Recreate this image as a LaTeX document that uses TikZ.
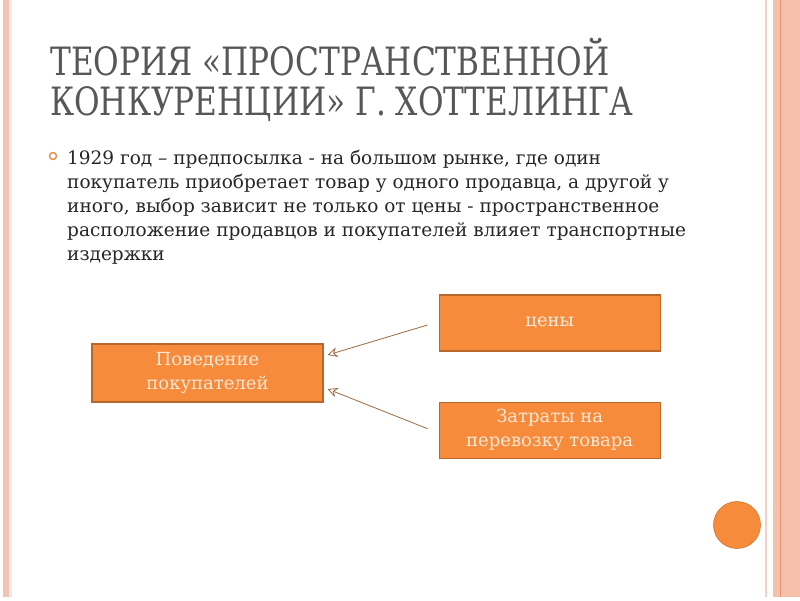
\documentclass[tikz,border=0pt]{standalone}
\usepackage{fontspec}
\setmainfont{DejaVu Serif}
\newfontfamily\titlefont[FakeStretch=0.8]{DejaVu Serif}
\usepackage{xcolor}
\usetikzlibrary{arrows.meta,positioning}
\definecolor{boxfill}{HTML}{F68B3B}
\definecolor{boxline}{HTML}{B8682D}
\definecolor{boxtext}{HTML}{FDE9D9}
\definecolor{titlegray}{HTML}{575757}
\definecolor{bodytext}{HTML}{262626}
\definecolor{arrowbrown}{HTML}{9C6B3F}
\definecolor{stripe}{HTML}{F6C0AA}
\definecolor{stripeline}{HTML}{E8907A}
\definecolor{edgepink}{HTML}{EEC5B5}

\begin{document}
\begin{tikzpicture}[
  x=1pt, y=-1pt,
  node distance=50pt and 115pt,
  box/.style={draw=boxline, line width=1.2pt, fill=boxfill, align=center,
              text=boxtext, font=\fontsize{18}{24}\selectfont,
              minimum width=221pt, minimum height=56pt, inner sep=0pt},
  arrow/.style={-{Stealth[open,length=10pt,width=10pt]}, draw=arrowbrown,
                line width=0.8pt}
]
\useasboundingbox (0,0) rectangle (800,600);
\fill[white] (0,0) rectangle (800,600);
% slide frame
\fill[edgepink] (3,0) rectangle (9,597);
\fill[edgepink!40] (9,0) rectangle (12,597);
\fill[edgepink!80] (764.5,0) rectangle (767,597);
\fill[stripe] (773,0) rectangle (800,597);
\draw[stripeline, line width=1pt] (780.5,0)--(780.5,597);
\fill[boxfill] (737,525) circle (23.5);
\draw[boxfill!85!black, line width=0.6pt] (737,525) circle (23.5);
% title and text
\node[anchor=base west, align=left, inner sep=0pt, text=titlegray,
      font=\titlefont\fontsize{39}{40}\selectfont] (title) at (50,115)
  {ТЕОРИЯ «ПРОСТРАНСТВЕННОЙ\\КОНКУРЕНЦИИ» Г. ХОТТЕЛИНГА};
\draw[color=boxfill!70!brown, line width=1.3pt] (53,156) circle (3.5);
\node[anchor=base west, align=left, inner sep=0pt, text=bodytext,
      font=\fontsize{18.5}{24}\selectfont] (text) at (67,260)
  {1929 год -- предпосылка - на большом рынке, где один\\
   покупатель приобретает товар у одного продавца, а другой у\\
   иного, выбор зависит не только от цены - пространственное\\
   расположение продавцов и покупателей влияет транспортные\\
   издержки};
% diagram
\node[box, minimum width=231pt, minimum height=58pt] (buyer) at (207.5,373)
  {Поведение\\покупателей};
\node[box, right=115pt of buyer, yshift=50pt] (price) {цены};
\node[box, below=50pt of price] (cost) {Затраты на\\перевозку товара};
\coordinate (tipA) at ([xshift=4pt,yshift=18pt]buyer.east);
\coordinate (tipB) at ([xshift=4pt,yshift=-16pt]buyer.east);
\draw[arrow] ([xshift=-11pt,yshift=-2pt]price.west)--(tipA);
\draw[arrow] ([xshift=-11pt,yshift=1.5pt]cost.west)--(tipB);
\end{tikzpicture}
\end{document}
